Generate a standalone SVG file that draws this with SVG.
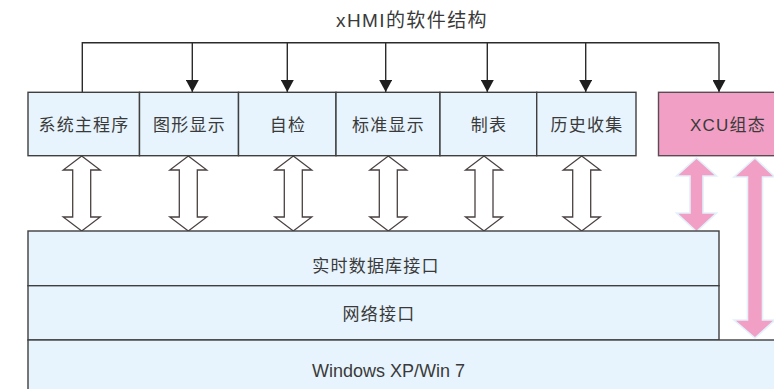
<svg xmlns="http://www.w3.org/2000/svg" width="774" height="389" viewBox="0 0 774 389">
  <style>
    .txt { font-family: "Liberation Sans", "Noto Sans CJK SC", sans-serif; fill: #3a3a3a; text-anchor: middle; }
    .lbl { font-size: 17px; letter-spacing: 1.2px; }
    .box { fill: #e7f4fd; stroke: #3f3f3f; stroke-width: 1.4; }
    .xcu { fill: #f19fc4; stroke: #5a4c52; stroke-width: 1.4; }
    .wire { fill: none; stroke: #2b2b2b; stroke-width: 1.4; }
    .hollow { fill: #ffffff; stroke: #4a4040; stroke-width: 1.3; stroke-linejoin: miter; }
    .pink { fill: #f19fc4; stroke: #e2f1fb; stroke-width: 1.6; stroke-linejoin: miter; }
  </style>
  <defs>
    <marker id="tip" markerWidth="12" markerHeight="13" refX="12" refY="6.5" orient="auto" markerUnits="userSpaceOnUse" viewBox="0 0 12 13">
      <path d="M0,0 L12,6.5 L0,13 Z" fill="#1e1e1e"/>
    </marker>
    <!-- hollow two-way arrow, centred on x=0, spanning y=0..75 -->
    <path id="dbl" d="M0,0 L18.5,14 L9,14 L9,61 L18.5,61 L0,75 L-18.5,61 L-9,61 L-9,14 L-18.5,14 Z"/>
  </defs>

  <!-- title -->
  <text class="txt" x="412" y="27" font-size="19" letter-spacing="1.4">xHMI的软件结构</text>

  <!-- connectors from the top bus -->
  <g id="connectors">
    <polyline class="wire" points="82.3,92 82.3,42.7 719,42.7"/>
    <line class="wire" x1="192.3" y1="42.7" x2="192.3" y2="92" marker-end="url(#tip)"/>
    <line class="wire" x1="287.3" y1="42.7" x2="287.3" y2="92" marker-end="url(#tip)"/>
    <line class="wire" x1="385.7" y1="42.7" x2="385.7" y2="92" marker-end="url(#tip)"/>
    <line class="wire" x1="487.3" y1="42.7" x2="487.3" y2="92" marker-end="url(#tip)"/>
    <line class="wire" x1="585.7" y1="42.7" x2="585.7" y2="92" marker-end="url(#tip)"/>
    <line class="wire" x1="719" y1="42.7" x2="719" y2="92" marker-end="url(#tip)"/>

    <!-- hollow two-way arrows between modules and database -->
    <use href="#dbl" class="hollow" x="81.7" y="156"/>
    <use href="#dbl" class="hollow" x="188.3" y="156"/>
    <use href="#dbl" class="hollow" x="293.3" y="156"/>
    <use href="#dbl" class="hollow" x="388.3" y="156"/>
    <use href="#dbl" class="hollow" x="484" y="156"/>
    <use href="#dbl" class="hollow" x="581.7" y="156"/>

    <!-- pink two-way arrows from XCU -->
    <path class="pink" d="M696.5,158 L716.5,176 L703,176 L703,213 L716.5,213 L696.5,231.5 L676.5,213 L690,213 L690,176 L676.5,176 Z"/>
    <path class="pink" d="M755,158 L775,177 L762.5,177 L762.5,320 L775,320 L755,338 L734,320 L747.5,320 L747.5,177 L734,177 Z"/>
  </g>

  <!-- application modules -->
  <g id="main-program">
    <rect class="box" x="28" y="92.3" width="111.5" height="63.4"/>
    <text class="txt lbl" x="84" y="131">系统主程序</text>
  </g>
  <g id="graphic-display">
    <rect class="box" x="139.5" y="92.3" width="99" height="63.4"/>
    <text class="txt lbl" x="189.5" y="131">图形显示</text>
  </g>
  <g id="self-check">
    <rect class="box" x="238.5" y="92.3" width="97.5" height="63.4"/>
    <text class="txt lbl" x="288" y="131">自检</text>
  </g>
  <g id="label-display">
    <rect class="box" x="336" y="92.3" width="104" height="63.4"/>
    <text class="txt lbl" x="388.5" y="131">标准显示</text>
  </g>
  <g id="tabulation">
    <rect class="box" x="440" y="92.3" width="96.7" height="63.4"/>
    <text class="txt lbl" x="489" y="131">制表</text>
  </g>
  <g id="history">
    <rect class="box" x="536.7" y="92.3" width="99.3" height="63.4"/>
    <text class="txt lbl" x="587" y="131">历史收集</text>
  </g>
  <g id="xcu-config">
    <rect class="xcu" x="658.5" y="92.3" width="120" height="63.4"/>
    <text class="txt lbl" x="728" y="131">XCU组态</text>
  </g>

  <!-- lower layers -->
  <g id="realtime-db">
    <rect class="box" x="28" y="231" width="691" height="54.7"/>
    <text class="txt lbl" x="376" y="271.5">实时数据库接口</text>
  </g>
  <g id="network">
    <rect class="box" x="28" y="285.7" width="691" height="54.3"/>
    <text class="txt lbl" x="379" y="320">网络接口</text>
  </g>
  <g id="os">
    <rect class="box" x="28" y="340" width="760" height="60"/>
    <text class="txt" x="388.5" y="376.5" font-size="18">Windows XP/Win 7</text>
  </g>
</svg>
